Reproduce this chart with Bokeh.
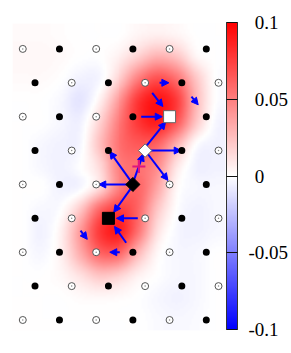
import numpy as np
from bokeh.plotting import figure
from bokeh.models import (Range1d, LinearColorMapper, ColorBar, FixedTicker,
                          Arrow, NormalHead, ColumnDataSource)
from bokeh.embed import file_html
from bokeh.resources import INLINE

# ---------------- data ----------------
# heat field (units of 0.01), rows listed top -> bottom, columns left -> right
FIELD_ROWS = [
    [0.2, 0.2, 0.1, 0.0, 0.0, 0.0, 0.4, 0.6, 0.4, 0.0, 0.0],
    [0.3, 0.3, 0.2, 0.0, 0.0, 0.6, 1.8, 3.0, 2.3, 0.4, 0.0],
    [0.2, 0.2, 0.0, -0.5, -0.3, 1.8, 5.0, 6.8, 5.5, 2.2, 0.0],
    [0.0, 0.0, -0.3, -1.0, 0.6, 4.0, 7.8, 9.2, 7.6, 2.8, 0.0],
    [0.0, 0.0, -0.3, -0.5, 1.8, 5.2, 7.8, 8.8, 6.5, 2.2, -0.3],
    [0.0, -0.3, -0.5, -0.3, 2.5, 5.5, 6.5, 6.0, 3.0, 0.0, -0.5],
    [0.0, -0.3, -0.5, 0.0, 1.5, 5.0, 5.5, 4.5, 1.0, -0.5, -0.5],
    [0.0, 0.0, -0.5, -0.3, 1.5, 5.0, 6.0, 3.5, 0.3, -0.3, -0.3],
    [0.0, -0.3, 0.0, 2.2, 6.0, 7.5, 6.0, 2.2, 0.0, -0.5, -0.3],
    [0.0, -0.5, 0.6, 4.0, 7.8, 8.8, 5.5, 1.2, -0.3, -0.5, -0.3],
    [0.0, -0.3, 0.6, 3.3, 6.0, 6.0, 2.8, 0.3, -0.3, -0.3, 0.0],
    [0.0, 0.0, 0.3, 1.2, 2.3, 1.8, 0.6, 0.0, -0.3, -0.3, 0.0],
    [0.0, 0.0, 0.0, 0.2, 0.3, 0.2, 0.0, -0.3, -0.5, -0.3, 0.0],
    [0.0, 0.0, 0.0, 0.0, 0.0, 0.0, 0.0, -0.2, -0.3, -0.2, 0.0],
]
FIELD_X0, FIELD_X1 = -0.84, 16.57
FIELD_Y0, FIELD_Y1 = -0.31, 8.75

# lattice rows, top -> bottom: o open, f filled, S white square,
# D white diamond, K black diamond, Q black square
ROW_PATTERNS = ["ofofof", "fofofo", "ofofSf", "fofDfo", "ofoKof",
                "foQofo", "ofofof", "fofofo", "ofofof"]
ROW_OFFSETS = [0, 1, 0, 1, 0, 1, 0, 1, 0]
COL_STEP = 3

ARROW_X0 = [11.18, 10.58, 13.79, 9.68, 10.03, 10.22, 10.11, 8.89, 8.81, 9.03, 8.81, 9.40, 8.45, 7.93, 4.72]
ARROW_Y0 = [7.00, 6.70, 6.59, 6.00, 5.10, 5.00, 4.95, 4.07, 4.00, 4.07, 3.87, 3.00, 2.28, 2.00, 2.64]
ARROW_X1 = [11.94, 11.45, 14.34, 11.40, 11.67, 12.95, 11.86, 7.11, 6.21, 9.84, 7.44, 7.66, 7.50, 7.11, 5.27]
ARROW_Y1 = [7.00, 6.30, 6.35, 6.00, 5.84, 5.00, 4.12, 4.97, 4.00, 4.90, 3.18, 3.00, 2.76, 2.00, 2.38]

CROSS_X = [9.49]
CROSS_Y = [4.53]

CB_TICKS = [-0.1, -0.05, 0.0, 0.05, 0.1]
CB_LABELS = ["-0.1", "-0.05", "\u20040", "\u20040.05", "\u20040.1"]

# ---------------- build ----------------
def blend(c1, c2, t):
    return tuple(int(round(a + (b - a) * t)) for a, b in zip(c1, c2))

palette = []
for i in range(256):
    t = i / 255
    if t < 0.5:
        c = blend((0, 0, 255), (255, 255, 255), t / 0.5)
    else:
        c = blend((255, 255, 255), (255, 0, 0), (t - 0.5) / 0.5)
    palette.append("#%02x%02x%02x" % c)

mapper = LinearColorMapper(palette=palette, low=-0.1, high=0.1)


def cubic_weights(n_in, n_out):
    """Display-resampling matrix (cubic convolution, clamped edges)."""
    W = np.zeros((n_out, n_in))
    pos = (np.arange(n_out) + 0.5) * n_in / n_out - 0.5
    a = -0.5
    for o, s in enumerate(pos):
        base = int(np.floor(s))
        for k in range(base - 1, base + 3):
            d = abs(s - k)
            if d <= 1:
                w = (a + 2) * d ** 3 - (a + 3) * d ** 2 + 1
            elif d < 2:
                w = a * d ** 3 - 5 * a * d ** 2 + 8 * a * d - 4 * a
            else:
                w = 0
            W[o, min(max(k, 0), n_in - 1)] += w
    return W


coarse = np.flipud(np.array(FIELD_ROWS) / 100.0)
ny, nx = coarse.shape
field = cubic_weights(ny, 154) @ coarse @ cubic_weights(nx, 107).T

p = figure(frame_width=213, frame_height=307,
           x_range=Range1d(FIELD_X0, FIELD_X1), y_range=Range1d(FIELD_Y0, FIELD_Y1),
           min_border_left=12, min_border_top=23, min_border_bottom=23, min_border_right=0,
           output_backend="svg", toolbar_location=None)
p.axis.visible = False
p.grid.visible = False
p.outline_line_color = None
p.background_fill_color = "white"

img = p.image(image=[field], x=FIELD_X0, y=FIELD_Y0,
              dw=FIELD_X1 - FIELD_X0, dh=FIELD_Y1 - FIELD_Y0, color_mapper=mapper)
img.level = "image"

arrows = ColumnDataSource(dict(x0=ARROW_X0, y0=ARROW_Y0, x1=ARROW_X1, y1=ARROW_Y1))
p.add_layout(Arrow(x_start="x0", y_start="y0", x_end="x1", y_end="y1", source=arrows,
                   line_color="blue", line_width=2, level="underlay",
                   end=NormalHead(size=7, fill_color="blue", line_color="blue", line_width=1)))

cr = p.scatter(CROSS_X, CROSS_Y, marker="cross", size=13, line_color="#e0157f", line_width=2.2)

groups = {k: ([], []) for k in "ofSDKQ"}
nrows = len(ROW_PATTERNS)
for r, (pat, off) in enumerate(zip(ROW_PATTERNS, ROW_OFFSETS)):
    for k, ch in enumerate(pat):
        groups[ch][0].append(COL_STEP * k + off)
        groups[ch][1].append(nrows - 1 - r)

ox, oy = groups["o"]
p.scatter(ox, oy, marker="circle", size=7, fill_color="white", line_color="#555555", line_width=1)
p.scatter(ox, oy, marker="circle", size=1.5, fill_color="#888888", line_color=None)
fx, fy = groups["f"]
p.scatter(fx, fy, marker="circle", size=7, fill_color="black", line_color=None)
p.scatter(*groups["S"], marker="square", size=12, fill_color="white", line_color="#666666", line_width=1)
p.scatter(*groups["Q"], marker="square", size=12, fill_color="black", line_color="black")
p.scatter(*groups["D"], marker="square", angle=np.pi / 4, size=9.5, fill_color="white",
          line_color="#666666", line_width=1)
p.scatter(*groups["K"], marker="square", angle=np.pi / 4, size=10, fill_color="black",
          line_color="black")

cb = ColorBar(color_mapper=mapper, ticker=FixedTicker(ticks=CB_TICKS),
              major_label_overrides={t: s for t, s in zip(CB_TICKS, CB_LABELS)},
              width=11, height=307, padding=1, margin=0, location=(0, 0),
              label_standoff=11, major_tick_in=11, major_tick_out=0,
              major_tick_line_color="#111111", minor_tick_line_color=None,
              bar_line_color="#333333", bar_line_width=1,
              border_line_color=None, background_fill_alpha=0,
              major_label_text_font="Liberation Serif", major_label_text_font_size="19px",
              major_label_text_color="black")
p.add_layout(cb, "right")

open("out.html", "w").write(file_html(p, INLINE))
